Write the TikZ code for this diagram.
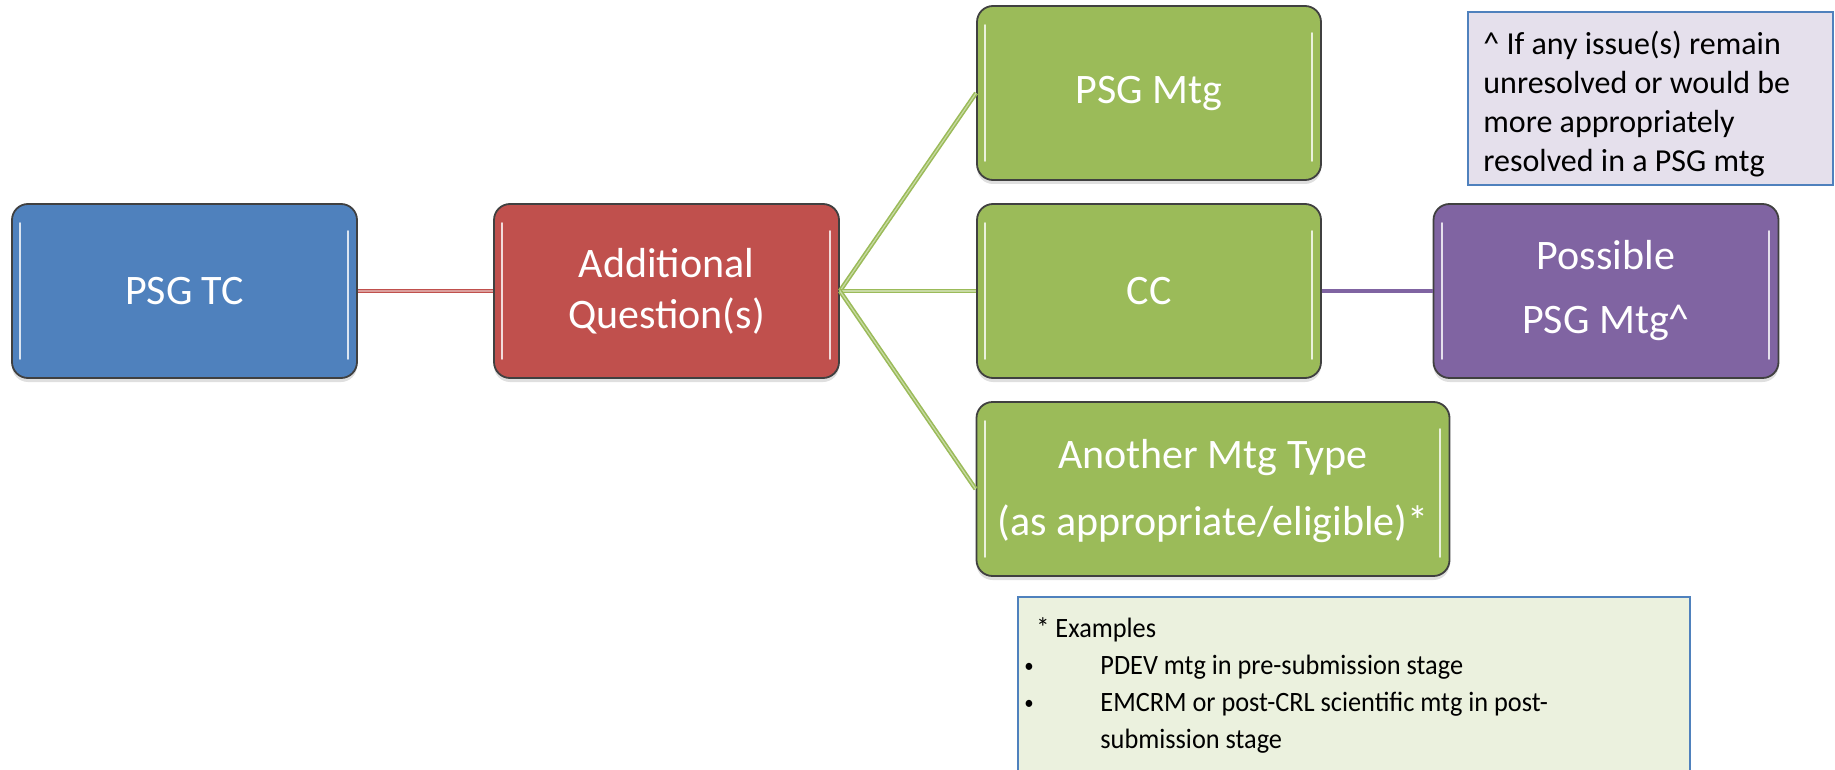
\documentclass[tikz,border=0pt]{standalone}
\usepackage{fontspec}
\setmainfont{Carlito}
\newfontfamily\notefont[FakeStretch=0.94]{Carlito}
\usetikzlibrary{shadows}
\definecolor{cblue}{HTML}{4F81BD}
\definecolor{cred}{HTML}{C0504D}
\definecolor{cgreen}{HTML}{9BBB59}
\definecolor{cpurple}{HTML}{8064A2}
\definecolor{lavender}{HTML}{E5E0EC}
\definecolor{palegreen}{HTML}{EBF1DE}
\definecolor{noteborder}{HTML}{4F81BD}
\newcommand{\smallbullet}{\makebox[32pt][l]{\hspace*{-6pt}\raisebox{0.8pt}{\fontsize{10}{10}\selectfont •}}}
\begin{document}
\begin{tikzpicture}[x=0.5pt,y=-0.5pt,
  box/.style={rounded corners=8pt, draw=black!75, line width=0.9pt, text=white,
    align=center, inner sep=0pt, minimum width=172.5pt, minimum height=87pt,
    font=\fontsize{21}{25.5}\selectfont,
    drop shadow={shadow xshift=0pt, shadow yshift=-2pt, opacity=0.25}},
  hl/.style={white, opacity=0.8, line width=1pt, line cap=round},
  link/.style={line width=2.2pt},
  note/.style={draw=noteborder, line width=0.8pt, inner sep=0pt}
]
\useasboundingbox (0,0) rectangle (1835,770);

% main boxes
\node[box, fill=cblue] (tc) at (184.5,291) {PSG TC};
\node[box, fill=cred] (aq) at (666.5,291) {Additional\\Question(s)};
\node[box, fill=cgreen, minimum width=172pt] (mtg) at (1149,93) {PSG Mtg};
\node[box, fill=cgreen, minimum width=172pt] (cc) at (1149,291) {CC};
\node[box, fill=cgreen, minimum width=236.5pt, font=\fontsize{21}{33.5}\selectfont] (another) at (1213,489) {\rule{0pt}{17pt}Another Mtg Type\\(as appropriate/eligible)*};
\node[box, fill=cpurple, font=\fontsize{21}{32}\selectfont] (poss) at (1606,291) {Possible\\PSG Mtg\textasciicircum};

% gloss highlights
\foreach \n in {tc,aq,mtg,cc,another,poss}{
  \draw[hl] ([xshift=4.5pt,yshift=-10pt]\n.north west) -- ([xshift=4.5pt,yshift=10pt]\n.south west);
  \draw[hl] ([xshift=-5pt,yshift=-14pt]\n.north east) -- ([xshift=-5pt,yshift=10pt]\n.south east);
}

% connectors
\draw[link, cred] (tc.east) -- (aq.west);
\draw[line width=0.6pt, cred!55!white] (tc.east) -- (aq.west);
\foreach \t in {mtg,cc,another}{
  \draw[link, cgreen] (aq.east) -- (\t.west);
  \draw[line width=0.6pt, cgreen!55!white] (aq.east) -- (\t.west);
}
\draw[link, cpurple] (cc.east) -- (poss.west);

% note boxes
\node[note, fill=lavender, minimum width=182.5pt, minimum height=86.5pt] (note1) at (1650.5,98.5) {};
\node[anchor=north west, align=left, inner sep=0pt, font=\fontsize{16}{19.5}\selectfont] (note1text) at (1483,31)
  {\textasciicircum{} If any issue(s) remain\\unresolved or would be\\more appropriately\\resolved in a PSG mtg};

\fill[palegreen] (1018,597) rectangle (1690,772);
\draw[noteborder, line width=0.8pt] (1018,772) -- (1018,597) -- (1690,597) -- (1690,772);
\node[anchor=north west, align=left, inner sep=0pt, font=\notefont\fontsize{14}{18.5}\selectfont] (note2text) at (1036,617)
  {* Examples\\
   \smallbullet PDEV mtg in pre-submission stage\\
   \smallbullet EMCRM or post-CRL scientific mtg in post-\\
   \hspace*{32pt}submission stage};
\end{tikzpicture}
\end{document}
